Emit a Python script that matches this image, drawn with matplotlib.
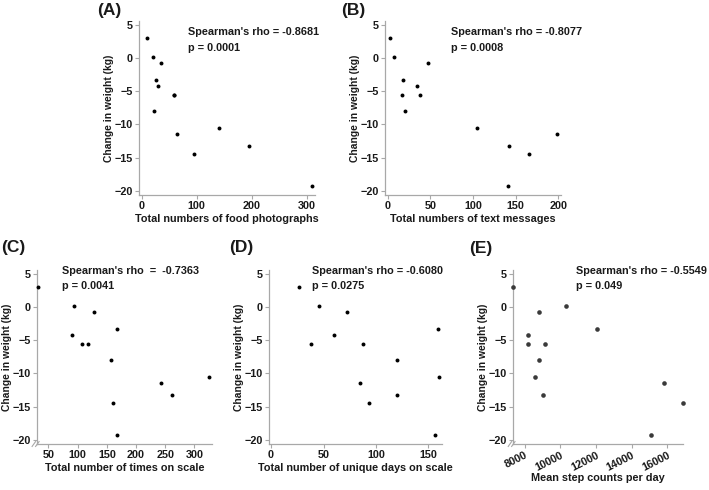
import matplotlib
matplotlib.use("Agg")
import matplotlib.pyplot as plt

plt.rcParams['font.family'] = ['Liberation Sans', 'DejaVu Sans']
plt.rcParams['font.weight'] = 'bold'

# change in weight (kg), same participants in every panel
weight = [3.1, 0.1, -0.7, -3.3, -4.2, -5.5, -5.5, -8.05, -10.6, -11.5, -13.2, -14.5, -19.25]

food_photos = [9, 21, 35, 25, 30, 58, 59, 22, 141, 64, 195, 95, 309]
text_msgs = [3, 8, 47, 18, 35, 17, 38, 20, 105, 198, 142, 166, 141]
times_scale = [33, 94, 128, 168, 90, 108, 118, 158, 325, 242, 261, 160, 168]
days_scale = [27, 46, 72, 159, 60, 38, 88, 120, 160, 85, 120, 93, 156]
steps = [7360, 10345, 8820, 12056, 8190, 8206, 9117, 8820, 8578, 15831, 9025, 16860, 15050]

panels = [
    dict(tag='(A)', x=food_photos, xlabel='Total numbers of food photographs',
         rho="Spearman's rho = -0.8681", p='p = 0.0001',
         xticks=[0, 100, 200, 300], xlim=(-5, 315)),
    dict(tag='(B)', x=text_msgs, xlabel='Total numbers of text messages',
         rho="Spearman's rho = -0.8077", p='p = 0.0008',
         xticks=[0, 50, 100, 150, 200], xlim=(-3, 203)),
    dict(tag='(C)', x=times_scale, xlabel='Total number of times on scale',
         rho="Spearman's rho  =  -0.7363", p='p = 0.0041',
         xticks=[50, 100, 150, 200, 250, 300], xlim=(30.5, 330)),
    dict(tag='(D)', x=days_scale, xlabel='Total number of unique days on scale',
         rho="Spearman's rho = -0.6080", p='p = 0.0275',
         xticks=[0, 50, 100, 150], xlim=(-2, 163)),
    dict(tag='(E)', x=steps, xlabel='Mean step counts per day',
         rho="Spearman's rho = -0.5549", p='p = 0.049',
         xticks=[8000, 10000, 12000, 14000, 16000], xlim=(7350, 16870)),
]

# axes boxes in pixels: left, right, top, bottom
W, H = 709, 490
boxes = [(139, 315, 21, 195), (385, 561, 21, 195),
         (37, 212, 270, 444), (269, 442, 270, 444), (513, 683, 270, 444)]
txt_pos = [(0.28, 0.935), (0.375, 0.935), (0.145, 0.995), (0.25, 0.995), (0.37, 0.995)]
tag_pos = [(97, 10), (341, 10), (1, 247), (229, 247), (469, 248)]

spine_col = '#a8a8a8'
txt_col = '#1a1a1a'

fig = plt.figure(figsize=(W / 100, H / 100), dpi=100)

for i, pn in enumerate(panels):
    l, r, t, b = boxes[i]
    w, h = r - l, b - t
    ax = fig.add_axes([l / W, 1 - b / H, w / W, h / H])
    if pn['tag'] == '(E)':
        ax.scatter(pn['x'], weight, s=11, color='#3a3a3a', linewidths=0, clip_on=False, zorder=3)
    else:
        ax.scatter(pn['x'], weight, s=8, color='black', linewidths=0, clip_on=False, zorder=3)
    ax.set_xlim(pn['xlim'])
    ax.set_ylim(-20.65, 5.6)
    ax.set_yticks([-20, -15, -10, -5, 0, 5])
    ax.set_xticks(pn['xticks'])
    for s in ['top', 'right']:
        ax.spines[s].set_visible(False)
    for s in ['left', 'bottom']:
        ax.spines[s].set_color(spine_col)
        ax.spines[s].set_linewidth(0.9)
    ax.tick_params(axis='both', colors=spine_col, labelcolor=txt_col, length=3,
                   width=0.8, labelsize=7.8, pad=1.5)
    for lab in ax.get_xticklabels() + ax.get_yticklabels():
        lab.set_fontweight('bold')
    ax.set_ylabel('Change in weight (kg)', fontsize=7.4, fontweight='bold', color=txt_col)
    ax.set_xlabel(pn['xlabel'], fontsize=7.8, fontweight='bold', color=txt_col)
    ax.yaxis.set_label_coords(-25.5 / w, 0.5)
    if pn['tag'] == '(E)':
        plt.setp(ax.get_xticklabels(), rotation=27, ha='right', rotation_mode='anchor',
                 fontsize=7.8)
        ax.xaxis.set_label_coords(0.5, -29.0 / h)
    else:
        ax.xaxis.set_label_coords(0.5, -19.0 / h)

    tx, ty = txt_pos[i]
    ax.text(tx, ty, pn['rho'], transform=ax.transAxes, fontsize=7.8,
            fontweight='bold', color=txt_col, va='center')
    ax.text(tx, ty - 0.088, pn['p'], transform=ax.transAxes, fontsize=7.8,
            fontweight='bold', color=txt_col, va='center')

    # axis break marks
    if pn['tag'] in ('(C)', '(E)'):
        for dx in (-0.028, -0.008):
            ax.plot([dx, dx + 0.02], [-0.014, 0.014], transform=ax.transAxes,
                    color=spine_col, lw=0.8, clip_on=False)

    gx, gy = tag_pos[i]
    fig.text(gx / W, 1 - gy / H, pn['tag'], fontsize=12.5, fontweight='bold',
             color=txt_col, va='center', ha='left')

fig.savefig('out.png', dpi=100)
